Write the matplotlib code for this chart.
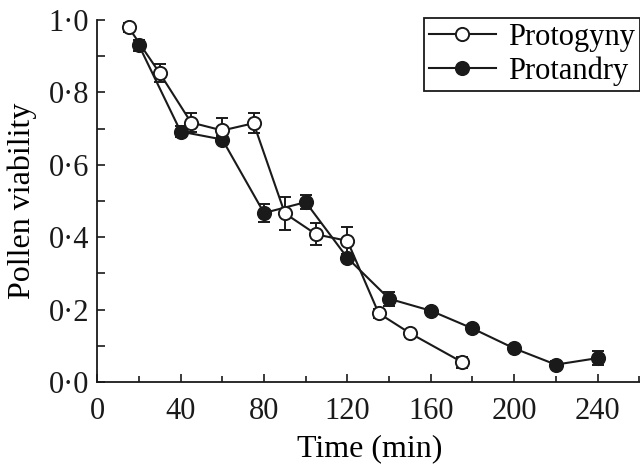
"""
plot.py — Pollen viability over time for protogynous and protandrous flowers.
"""

import matplotlib
matplotlib.use("Agg")
import matplotlib.pyplot as plt
from matplotlib.lines import Line2D
from matplotlib.ticker import FuncFormatter, MultipleLocator

plt.rcParams["font.family"] = ["Liberation Serif", "DejaVu Serif"]

# Protogyny (open circles)
gyny_time = [15, 30, 45, 60, 75, 90, 105, 120, 135, 150, 175]
gyny_viab = [0.980, 0.853, 0.717, 0.695, 0.715, 0.466, 0.408, 0.390, 0.190, 0.135, 0.055]
gyny_err = [0.012, 0.025, 0.025, 0.035, 0.028, 0.045, 0.030, 0.037, 0.012, 0.010, 0.015]

# Protandry (filled circles)
andry_time = [20, 40, 60, 80, 100, 120, 140, 160, 180, 200, 220, 240]
andry_viab = [0.930, 0.692, 0.670, 0.467, 0.497, 0.343, 0.230, 0.197, 0.148, 0.093, 0.048, 0.066]
andry_err = [0.015, 0.015, 0.010, 0.025, 0.020, 0.010, 0.020, 0.008, 0.008, 0.008, 0.010, 0.020]

INK = "#1a1a1a"

fig = plt.figure(figsize=(6.4, 4.67), dpi=100)
ax = fig.add_axes([0.152, 0.182, 0.85, 0.775])

common = dict(color=INK, linewidth=1.5, markersize=9.5, capsize=4.5,
              elinewidth=1.4, capthick=1.4, markeredgewidth=1.4)
ax.errorbar(gyny_time, gyny_viab, yerr=gyny_err, marker="o",
            markerfacecolor="white", markeredgecolor=INK, zorder=3, **common)
ax.errorbar(andry_time, andry_viab, yerr=andry_err, marker="o",
            markerfacecolor=INK, markeredgecolor=INK, zorder=2, **common)

ax.set_xlim(0, 261)
ax.set_ylim(0, 1.0)
ax.xaxis.set_major_locator(MultipleLocator(40))
ax.xaxis.set_minor_locator(MultipleLocator(20))
ax.yaxis.set_major_locator(MultipleLocator(0.2))
ax.yaxis.set_minor_locator(MultipleLocator(0.1))
ax.yaxis.set_major_formatter(FuncFormatter(lambda v, _: f"{v:.1f}".replace(".", "·")))

ax.tick_params(which="both", direction="in", width=1.2, labelsize=22, colors=INK)
ax.tick_params(axis="x", which="major", length=6, pad=11)
ax.tick_params(axis="x", which="minor", length=4)
ax.tick_params(axis="y", which="both", length=6, pad=6)

for side in ["top", "right"]:
    ax.spines[side].set_visible(False)
for side in ["left", "bottom"]:
    ax.spines[side].set_linewidth(1.3)
    ax.spines[side].set_color(INK)

ax.set_xlabel("Time (min)", fontsize=23, labelpad=6)
ax.set_ylabel("Pollen viability", fontsize=23, labelpad=8)

# Legend without error bars
handles = [
    Line2D([], [], color=INK, linewidth=1.5, marker="o", markersize=9.5,
           markerfacecolor="white", markeredgecolor=INK, markeredgewidth=1.4),
    Line2D([], [], color=INK, linewidth=1.5, marker="o", markersize=9.5,
           markerfacecolor=INK, markeredgecolor=INK, markeredgewidth=1.4),
]
leg = ax.legend(handles, ["Protogyny", "Protandry"], loc="upper right",
                bbox_to_anchor=(0.997, 1.005), fontsize=22,
                frameon=True, fancybox=False, edgecolor=INK, framealpha=1,
                handlelength=2.2, handletextpad=0.4, borderpad=0.15,
                labelspacing=0.15, borderaxespad=0.0)
leg.get_frame().set_linewidth(1.3)

fig.savefig("out.png", dpi=100, facecolor="white")
plt.close(fig)
